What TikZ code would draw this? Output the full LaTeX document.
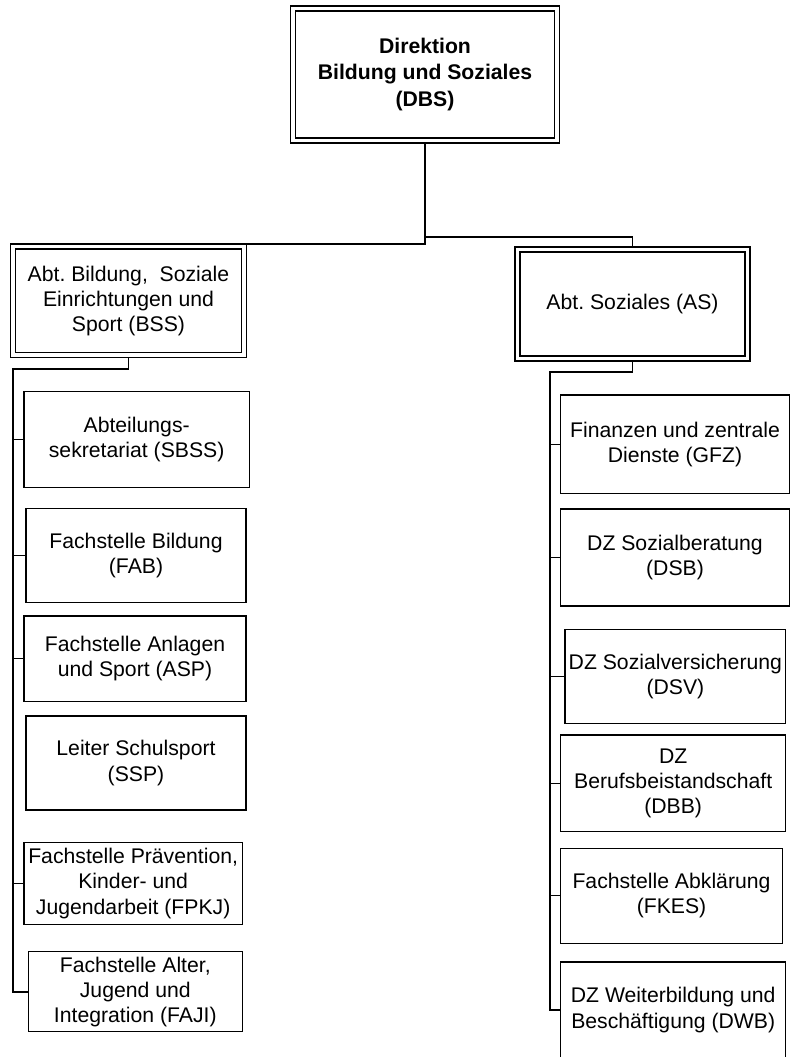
\documentclass[tikz,border=0pt]{standalone}
\usepackage{fontspec}
\setmainfont{Liberation Sans}
\newlength{\pxu}\setlength{\pxu}{0.75pt}
\frenchspacing
\tikzset{
  base/.style={inner sep=0pt, align=center, font=\fontsize{15.9}{18.8}\selectfont},
  sbox/.style={base, draw, line width=1pt},
  dbox/.style={base, draw, line width=0.9pt, double, double distance=2.85pt, outer sep=1.875pt},
  trunk/.style={line width=1.4pt},
  stub/.style={line width=0.8pt},
}
\begin{document}
\begin{tikzpicture}[x=0.75pt, y=-0.75pt]
\fill[white] (0,0) rectangle (794,1057);
\useasboundingbox (0,0) rectangle (794,1057);

% top
\node[dbox, minimum width=264\pxu, minimum height=132\pxu,
      font=\fontsize{15.9}{19.6}\selectfont\bfseries] (DBS) at (425,74.5)
  {Direktion\\Bildung und Soziales\\(DBS)};

% departments
\node[dbox, minimum width=231.4\pxu, minimum height=108.7\pxu] (BSS) at (128.5,300.85)
  {Abt. Bildung,\ \ Soziale\\Einrichtungen und\\Sport (BSS)};
\node[dbox, minimum width=230\pxu, minimum height=109\pxu] (AS) at (632.5,304)
  {Abt. Soziales (AS)};

% left column
\node[sbox, minimum width=225.3\pxu, minimum height=95.6\pxu] (SBSS) at (136.65,439.5)
  {Abteilungs-\\sekretariat (SBSS)};
\node[sbox, minimum width=220\pxu, minimum height=94\pxu] (FAB) at (136,555.7)
  {Fachstelle Bildung\\(FAB)};
\node[sbox, minimum width=222\pxu, minimum height=85.7\pxu] (ASP) at (135,658.85)
  {Fachstelle Anlagen\\und Sport (ASP)};
\node[sbox, minimum width=220\pxu, minimum height=94\pxu] (SSP) at (136,763)
  {Leiter Schulsport\\(SSP)};
\node[sbox, minimum width=218.3\pxu, minimum height=81.6\pxu] (FPKJ) at (133.15,883.5)
  {Fachstelle Prävention,\\Kinder- und\\Jugendarbeit (FPKJ)};
\node[sbox, minimum width=214\pxu, minimum height=80\pxu] (FAJI) at (135.3,991.7)
  {Fachstelle Alter,\\Jugend und\\Integration (FAJI)};

% right column
\node[sbox, minimum width=228.6\pxu, minimum height=98.3\pxu] (GFZ) at (675,444.15)
  {Finanzen und zentrale\\Dienste (GFZ)};
\node[sbox, minimum width=228.6\pxu, minimum height=97\pxu] (DSB) at (675,557.5)
  {DZ Sozialberatung\\(DSB)};
\node[sbox, minimum width=220.7\pxu, minimum height=94\pxu] (DSV) at (675.35,676.3)
  {DZ Sozialversicherung\\(DSV)};
\node[sbox, minimum width=225\pxu, minimum height=96.7\pxu] (DBB) at (673.2,783.35)
  {DZ\\Berufsbeistandschaft\\(DBB)};
\node[sbox, minimum width=221.6\pxu, minimum height=95\pxu] (FKES) at (671.5,895.8)
  {Fachstelle Abklärung\\(FKES)};
\node[sbox, minimum width=225\pxu, minimum height=96\pxu] (DWB) at (673.2,1010)
  {DZ Weiterbildung und\\Beschäftigung (DWB)};

% connectors from the top
\draw[trunk] (DBS.south) |- (BSS.north);
\draw[trunk] (DBS.south) -- ++(0,94) -| (AS.north);

% left spine
\coordinate (Ltop) at (12.7,369);
\draw[trunk] (BSS.south) |- (Ltop) -- (Ltop |- FAJI.west) -- (FAJI.west);
\foreach \n in {SBSS,FAB,ASP,FPKJ}
  \draw[stub] (Ltop |- \n.west) -- (\n.west);

% right spine
\coordinate (Rtop) at (550,372.3);
\draw[trunk] (AS.south) |- (Rtop) -- (Rtop |- DWB.west) -- (DWB.west);
\foreach \n in {GFZ,DSB,DSV,DBB,FKES}
  \draw[stub] (Rtop |- \n.west) -- (\n.west);
\end{tikzpicture}
\end{document}
